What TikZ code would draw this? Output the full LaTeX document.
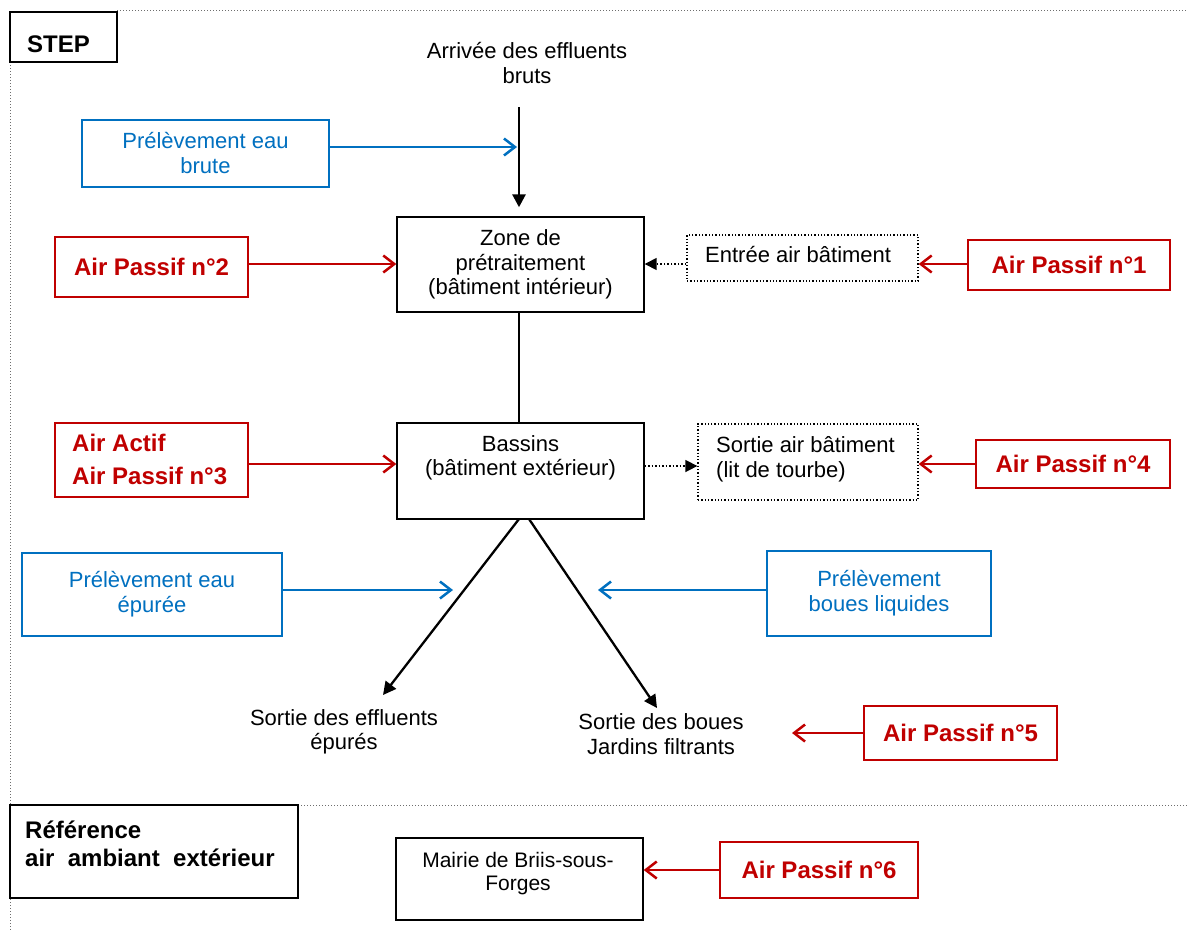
\documentclass[tikz,border=0pt]{standalone}
\usepackage{fontspec}
\setmainfont{Liberation Sans}
\usetikzlibrary{arrows.meta}
\definecolor{myred}{RGB}{192,0,0}
\definecolor{myblue}{RGB}{0,112,192}
\definecolor{frame}{RGB}{110,110,110}
\begin{document}
\begin{tikzpicture}[x=1pt,y=-1pt,
  wh/.style 2 args={minimum width=#1pt, minimum height=#2pt, inner sep=0pt},
  blackbox/.style={draw=black, line width=1.4pt, fill=white},
  dotbox/.style={draw=black, line width=1.3pt, dotted, fill=white},
  redbox/.style={draw=myred, line width=2.2pt, fill=white, text=myred, font=\bfseries\fontsize{24}{33}\selectfont},
  bluebox/.style={draw=myblue, line width=2.2pt, fill=white, text=myblue, font=\fontsize{22}{25}\selectfont, align=center},
  txt/.style={font=\fontsize{22}{24.5}\selectfont, align=center, inner sep=0pt},
  redarr/.style={draw=myred, line width=2.5pt, -{Straight Barb[length=11pt,width=17pt,line width=2.5pt]}},
  bluearr/.style={draw=myblue, line width=2.5pt, -{Straight Barb[length=11pt,width=17pt,line width=2.5pt]}},
  blackarr/.style={draw=black, line width=2.8pt, -{Triangle[length=13pt,width=13pt]}},
  dotarr/.style={draw=black, line width=1.5pt, dotted, -{Triangle[length=12pt,width=12pt]}},
  framel/.style={draw=frame, line width=1pt, dotted}
]
\useasboundingbox (0,0) rectangle (1188,930);
\fill[white] (0,0) rectangle (1188,930);

% frame
\draw[framel] (117,10) -- (1188,10);
\draw[framel] (10,62) -- (10,930);
\draw[framel] (298,805) -- (1188,805);

% STEP
\node[blackbox, wh={107}{50}] (step) at (63.5,37) {};
\node[anchor=west, inner sep=0pt, font=\bfseries\fontsize{24}{28}\selectfont] (stept) at (27,44) {STEP};

% top
\node[txt] (arrivee) at (527,63) {Arrivée des effluents\\bruts};
\coordinate (topstart) at (519,107);
\coordinate (tapb) at (517,147);

\node[bluebox, wh={247}{67}] (pebrute) at (205.5,153.5) {Prélèvement eau\\brute};

\node[blackbox, wh={247}{95}, txt] (zone) at (520.5,264.5) {Zone de\\prétraitement\\(bâtiment intérieur)};

\draw[blackarr, shorten >=9pt] (topstart) -- (zone.north -| topstart);
\draw[bluearr] (pebrute.east |- tapb) -- (tapb);

\node[redbox, wh={193}{60}] (ap2) at (151.5,267) {Air Passif n°2};
\draw[redarr] (ap2.east |- 0,264) -- (zone.west |- 0,264);

\node[dotbox, wh={231}{46}] (entree) at (802.5,258) {};
\node[txt, anchor=west] (entreet) at (705,254) {Entrée air bâtiment};
\draw[dotarr] (entree.west |- 0,264) -- (zone.east |- 0,264);

\node[redbox, wh={202}{50}] (ap1) at (1069,265) {Air Passif n°1};
\draw[redarr] (ap1.west |- 0,264) -- (entree.east |- 0,264);

% Bassins
\node[blackbox, wh={247}{96}] (bassins) at (520.5,471) {};
\node[txt] (bassinst) at (520.5,458) {Bassins\\(bâtiment extérieur)};
\draw[draw=black, line width=2.8pt] (zone.south -| 519,0) -- (bassins.north -| 519,0);

\node[redbox, wh={193}{74}] (ap3) at (151.5,460) {};
\node[anchor=west, inner sep=0pt, text=myred, font=\bfseries\fontsize{24}{33}\selectfont, align=left] (ap3t) at (72,459.5) {Air Actif\\Air Passif n°3};
\draw[redarr] (ap3.east |- 0,464) -- (bassins.west |- 0,464);

\node[dotbox, wh={220}{76}] (sortie) at (808,462) {};
\node[txt, anchor=west, align=left] (sortiet) at (716,459.5) {Sortie air bâtiment\\(lit de tourbe)};
\draw[dotarr] (bassins.east |- 0,466) -- (sortie.west |- 0,466);

\node[redbox, wh={194}{48}] (ap4) at (1073,464) {Air Passif n°4};
\draw[redarr] (ap4.west |- 0,464) -- (sortie.east |- 0,464);

% outputs
\node[txt] (seff) at (344,732) {Sortie des effluents\\épurés};
\node[txt] (sboues) at (661,734) {Sortie des boues\\Jardins filtrants};
\coordinate (d1s) at (519,519);
\coordinate (d1e) at (383,695);
\coordinate (d2s) at (529,519);
\coordinate (d2e) at (657,708);
\draw[blackarr, line width=2.3pt] (d1s) -- (d1e);
\draw[blackarr, line width=2.3pt] (d2s) -- (d2e);

\node[bluebox, wh={260}{83}] (peepuree) at (152,594.5) {Prélèvement eau\\épurée};
\coordinate (tape) at (453,590);
\draw[bluearr] (peepuree.east |- tape) -- (tape);

\node[bluebox, wh={224}{85}] (peboues) at (879,593.5) {Prélèvement\\boues liquides};
\coordinate (tapb2) at (598,590);
\draw[bluearr] (peboues.west |- tapb2) -- (tapb2);

\node[redbox, wh={193}{54}] (ap5) at (960.5,733) {Air Passif n°5};
\coordinate (ap5end) at (792,733);
\draw[redarr] (ap5.west) -- (ap5end);

% reference
\node[blackbox, wh={288}{93}] (ref) at (154,851.5) {};
\node[anchor=west, inner sep=0pt, font=\bfseries\fontsize{24}{28}\selectfont, align=left] (reft) at (25,844) {Référence\\air~ ambiant~ extérieur};

\node[blackbox, wh={247}{82}] (mairie) at (519.5,879) {};
\node[txt, font=\fontsize{21}{23}\selectfont] (mairiet) at (518,873.5) {Mairie de Briis-sous-\\Forges};

\node[redbox, wh={198}{56}] (ap6) at (819,870) {Air Passif n°6};
\draw[redarr] (ap6.west) -- (mairie.east |- ap6.west);
\end{tikzpicture}
\end{document}
